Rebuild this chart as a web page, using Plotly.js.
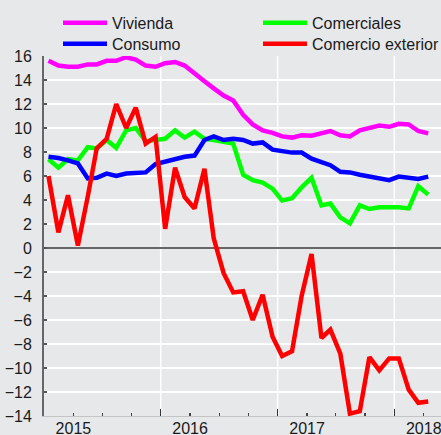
<!DOCTYPE html>
<html><head><meta charset="utf-8">
<script src="https://cdn.plot.ly/plotly-3.0.1.min.js"></script>
<style>html,body{margin:0;padding:0;background:#e7e8ea;} #chart{width:441px;height:435px;}</style>
</head><body><div id="chart"></div>
<script>
const months = ['2014-10-15','2014-11-15','2014-12-15',
  '2015-01-15','2015-02-15','2015-03-15','2015-04-15','2015-05-15','2015-06-15','2015-07-15','2015-08-15','2015-09-15','2015-10-15','2015-11-15','2015-12-15',
  '2016-01-15','2016-02-15','2016-03-15','2016-04-15','2016-05-15','2016-06-15','2016-07-15','2016-08-15','2016-09-15','2016-10-15','2016-11-15','2016-12-15',
  '2017-01-15','2017-02-15','2017-03-15','2017-04-15','2017-05-15','2017-06-15','2017-07-15','2017-08-15','2017-09-15','2017-10-15','2017-11-15','2017-12-15',
  '2018-01-15'];
const vivienda = [15.6,15.2,15.1,15.1,15.3,15.3,15.6,15.6,15.9,15.7,15.2,15.1,15.4,15.5,15.2,14.5,13.9,13.3,12.7,12.3,11.1,10.3,9.8,9.6,9.3,9.2,9.4,9.35,9.55,9.75,9.4,9.3,9.8,9.95,10.2,10.1,10.35,10.3,9.75,9.55];
const comerciales = [7.4,6.7,7.4,7.3,8.4,8.3,9.0,8.35,9.8,10.0,8.9,9.05,9.1,9.8,9.2,9.7,9.1,9.0,8.8,8.7,6.1,5.65,5.45,4.95,3.95,4.15,5.05,5.85,3.55,3.7,2.55,2.05,3.55,3.25,3.4,3.4,3.4,3.3,5.15,4.45];
const consumo = [7.6,7.5,7.3,7.05,5.8,5.85,6.2,6.0,6.2,6.25,6.3,7.0,7.2,7.4,7.6,7.7,9.0,9.3,9.0,9.1,9.0,8.7,8.8,8.2,8.1,7.95,7.95,7.45,7.15,6.9,6.35,6.3,6.1,5.95,5.85,5.65,5.95,5.85,5.75,5.95];
const comercioExterior = [6.0,1.3,4.4,0.2,4.3,8.3,9.1,12.0,10.0,11.7,8.7,9.25,1.6,6.7,4.25,3.3,6.6,0.8,-2.1,-3.7,-3.6,-6.0,-3.9,-7.4,-9.0,-8.6,-4.0,-0.5,-7.5,-6.8,-8.8,-13.8,-13.6,-9.1,-10.2,-9.2,-9.2,-11.8,-12.9,-12.8];
// quarterly tick marks; year labels at January
const quarterTicks = ['2014-10-01','2015-01-01','2015-04-01','2015-07-01','2015-10-01','2016-01-01','2016-04-01','2016-07-01',
  '2016-10-01','2017-01-01','2017-04-01','2017-07-01','2017-10-01','2018-01-01'];
const quarterLabels = ['','2015','','','','2016','','','','2017','','','','2018'];
// long ticks and vertical gridlines at October
const majorTicks = ['2014-10-01','2015-10-01','2016-10-01','2017-10-01'];
const xRange = ['2014-10-01','2018-02-24'];

function series(name, y, color, legendId, xaxis) {
  return {x: months, y: y, name: name, type: 'scatter', mode: 'lines', xaxis: xaxis, yaxis: 'y',
    line: {color: color, width: 4.5}, legend: legendId, hoverinfo: 'x+y+name'};
}
const data = [
  series('Vivienda', vivienda, '#ff00ff', 'legend', 'x'),
  series('Comerciales', comerciales, '#00ff00', 'legend', 'x'),
  series('Consumo', consumo, '#0000ff', 'legend2', 'x'),
  series('Comercio exterior', comercioExterior, '#ff0000', 'legend2', 'x2')
];
const bg = '#e7e8ea';
const legendBase = {orientation: 'h', xanchor: 'left', yanchor: 'top',
  entrywidth: 141, itemwidth: 44, bgcolor: 'rgba(0,0,0,0)', traceorder: 'normal',
  font: {size: 16, color: '#1a1a1a'}};
// vertical gridlines at the long (October) ticks
const gridShapes = majorTicks.slice(1).map(d => ({type: 'line', xref: 'x', yref: 'paper',
  x0: d, x1: d, y0: 0, y1: 1, layer: 'below', line: {color: '#ffffff', width: 1.5}}));
const layout = {
  width: 441, height: 435,
  paper_bgcolor: bg, plot_bgcolor: bg,
  margin: {l: 44, r: 0, t: 56, b: 19, autoexpand: false},
  font: {family: 'Liberation Sans, Arial, sans-serif', size: 16, color: '#1a1a1a'},
  showlegend: true,
  legend: Object.assign({}, legendBase, {x: 0.0353, y: 1.139}),
  legend2: Object.assign({}, legendBase, {x: 0.0353, y: 1.081}),
  shapes: gridShapes,
  xaxis: {type: 'date', range: xRange, tickmode: 'array', tickvals: quarterTicks, ticktext: quarterLabels,
    ticks: 'inside', ticklen: 3, tickwidth: 1.2, tickcolor: '#444', ticklabeloverflow: 'allow',
    ticklabelstandoff: -2,
    tickfont: {size: 16, color: '#1a1a1a'},
    showgrid: false, showline: true, linecolor: '#c4c4c4', linewidth: 1, zeroline: false},
  xaxis2: {type: 'date', overlaying: 'x', anchor: 'y', side: 'bottom', range: xRange,
    tickmode: 'array', tickvals: majorTicks, showticklabels: false,
    ticks: 'inside', ticklen: 7, tickwidth: 1.5, tickcolor: '#333',
    showgrid: true, gridcolor: '#ffffff', gridwidth: 1.5, showline: false, zeroline: false},
  yaxis: {range: [-14, 16], tickmode: 'linear', tick0: -14, dtick: 2,
    ticks: 'inside', ticklen: 3, tickwidth: 1.2, tickcolor: '#555',
    showline: true, linecolor: '#666666', linewidth: 2,
    showgrid: true, gridcolor: '#ffffff', gridwidth: 1.5,
    zeroline: true, zerolinecolor: '#666666', zerolinewidth: 2,
    ticklabelstandoff: 7, tickfont: {size: 16, color: '#1a1a1a'}}
};
Plotly.newPlot('chart', data, layout, {displayModeBar: false, staticPlot: true});
</script>
</body></html>
